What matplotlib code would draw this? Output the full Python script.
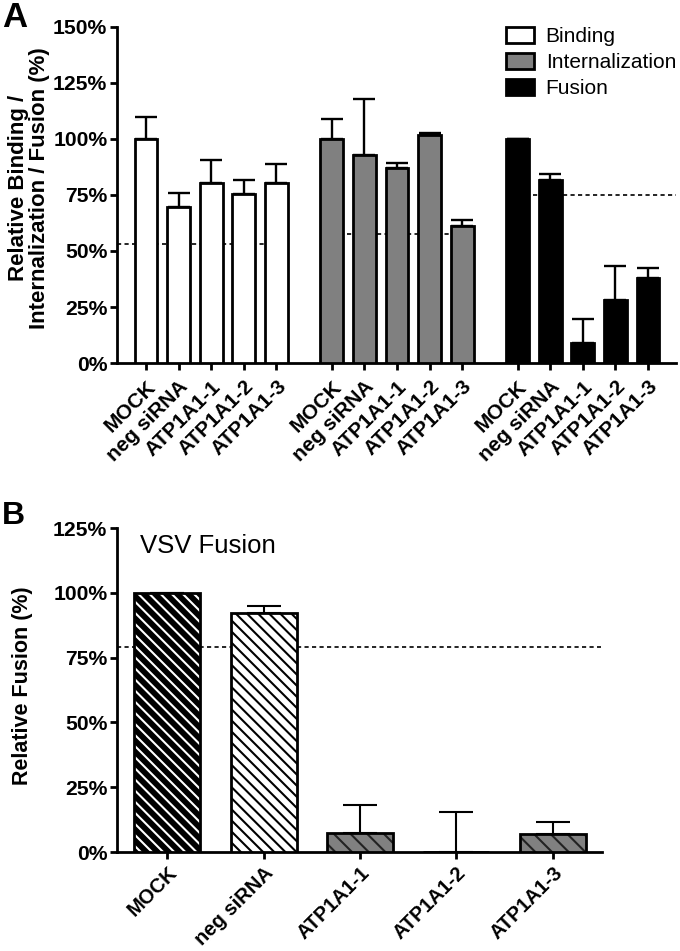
import matplotlib
matplotlib.use('Agg')
import matplotlib.pyplot as plt
import numpy as np

plt.rcParams['font.family'] = ['Liberation Sans', 'DejaVu Sans']
plt.rcParams['hatch.linewidth'] = 1.5

# Panel A data
groups = ['Binding', 'Internalization', 'Fusion']
conds = ['MOCK', 'neg siRNA', 'ATP1A1-1', 'ATP1A1-2', 'ATP1A1-3']
bind_val = [100, 69.5, 80.5, 75.5, 80.5]
bind_err = [10, 6.5, 10, 6, 8.5]
intern_val = [100, 93, 87, 102, 61]
intern_err = [9, 25, 2.5, 0.6, 2.7]
fus_val = [100, 81.5, 9, 28, 38]
fus_err = [0, 3, 10.5, 15.5, 4.5]
cutoffs_a = [53, 57.5, 75]

# Panel B data
vsv_conds = ['MOCK', 'neg siRNA', 'ATP1A1-1', 'ATP1A1-2', 'ATP1A1-3']
vsv_val = [100, 92.3, 7.3, 0, 6.9]
vsv_err = [0, 2.8, 10.8, 15.4, 4.7]
cutoff_b = 79.2

fig = plt.figure(figsize=(6.8, 9.51), dpi=100)

# ---------- A ----------
ax = fig.add_axes([117/680, 1-363/951, 559/680, 336/951])
faces = ['white', '#808080', 'black']
vals = [bind_val, intern_val, fus_val]
errs = [bind_err, intern_err, fus_err]
gap = 5.7
ticks, labels = [], []
for g in range(3):
    x = np.arange(5) + g*gap
    ax.bar(x, vals[g], width=0.7, color=faces[g], edgecolor='black', linewidth=2, zorder=3, label=groups[g])
    ax.errorbar(x, vals[g], yerr=[np.zeros(5), errs[g]], fmt='none', ecolor='black', elinewidth=1.7,
                capsize=8, capthick=1.7, zorder=2)
    right = x[-1] if g < 2 else 16.3
    left = -0.89 if g == 0 else x[0]
    ax.plot([left, right], [cutoffs_a[g]]*2, color='black', lw=1.2, ls=(0, (2.5, 2)), zorder=1)
    ticks += list(x); labels += conds
ax.set_xlim(-0.89, 16.26)
ax.set_ylim(0, 150)
ax.set_yticks(np.arange(0, 151, 25))
ax.set_yticklabels([f'{v}%' for v in range(0, 151, 25)], fontweight='bold', fontsize=15.2)
ax.set_xticks(ticks)
ax.set_xticklabels(labels, rotation=45, ha='right', va='top', rotation_mode='anchor',
                   fontweight='bold', fontsize=15)
ax.set_ylabel('Relative Binding /\nInternalization / Fusion (%)', fontweight='bold', fontsize=16, linespacing=1.0)
ax.yaxis.set_label_coords(-0.12, 0.52)
for s in ['top', 'right']:
    ax.spines[s].set_visible(False)
for s in ['left', 'bottom']:
    ax.spines[s].set_linewidth(2)
ax.tick_params(width=2, length=5, direction='out', pad=2)
ax.tick_params(axis='x', pad=5)
ax.legend(loc='upper left', bbox_to_anchor=(0.696, 1.0), frameon=False, fontsize=15, borderpad=0,
          borderaxespad=0, handlelength=1.35, handleheight=0.8, handletextpad=0.55, labelspacing=0.33)

# ---------- B ----------
bx = fig.add_axes([117/680, 1-852/951, 485/680, 324/951])
xb = np.arange(5)
bfaces = ['black', 'white', '#808080', '#808080', '#808080']
hcols = ['white', 'black', '#222222', '#222222', '#222222']
hatches = ['\\\\\\', '\\\\\\', '\\\\', '\\\\', '\\\\']
bx.plot([-0.52, 4.5], [cutoff_b]*2, color='black', lw=1.2, ls=(0, (2.5, 2)), zorder=1)
bx.errorbar(xb, vsv_val, yerr=[np.zeros(5), vsv_err], fmt='none', ecolor='black', elinewidth=1.5,
            capsize=12, capthick=1.5, zorder=2)
for i in range(5):
    bx.bar(xb[i], vsv_val[i], width=0.685, color=bfaces[i], edgecolor=hcols[i], hatch=hatches[i], linewidth=0, zorder=3)
    bx.bar(xb[i], vsv_val[i], width=0.685, fill=False, edgecolor='black', linewidth=2, zorder=4)
bx.set_xlim(-0.52, 4.51)
bx.set_ylim(0, 125)
bx.set_yticks(np.arange(0, 126, 25))
bx.set_yticklabels([f'{v}%' for v in range(0, 126, 25)], fontweight='bold', fontsize=15.2)
bx.set_xticks(xb)
bx.set_xticklabels(vsv_conds, rotation=45, ha='right', va='top', rotation_mode='anchor',
                   fontweight='bold', fontsize=14.5)
bx.set_ylabel('Relative Fusion (%)', fontweight='bold', fontsize=15.5)
bx.yaxis.set_label_coords(-0.173, 0.512)
for s in ['top', 'right']:
    bx.spines[s].set_visible(False)
for s in ['left', 'bottom']:
    bx.spines[s].set_linewidth(2)
bx.tick_params(width=2, length=5, direction='out', pad=2)
bx.tick_params(axis='x', pad=3)
bx.text(140/680, 1-553/951, 'VSV Fusion', transform=fig.transFigure, fontsize=18.5, ha='left', va='baseline')

fig.text(2/680, 1-1/951, 'A', fontsize=25, fontweight='bold', ha='left', va='top')
fig.text(2/680, 1-501/951, 'B', fontsize=23, fontweight='bold', ha='left', va='top')

plt.savefig('out.png', dpi=100)
